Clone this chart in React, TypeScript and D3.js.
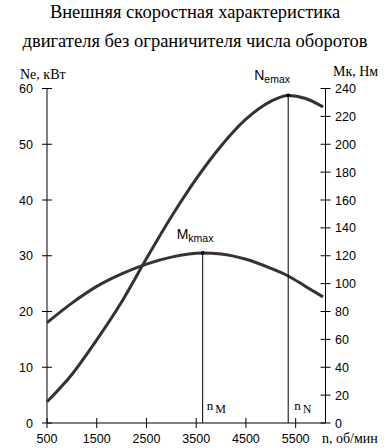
import React from "react";
import * as d3 from "d3";

const rpm = [500, 1000, 1500, 2000, 2500, 3000, 3500, 4000, 4500, 5000, 5350, 5700, 6050];
const powerNe = [3.8, 8.7, 14.9, 21.7, 29.5, 37.0, 43.8, 49.7, 54.5, 57.7, 58.75, 58.2, 56.7];
const torqueRpm = [500, 1000, 1500, 2000, 2500, 3000, 3630, 4000, 4500, 5000, 5350, 5700, 6050];
const torqueMk = [72, 86, 98, 107, 114, 119, 122, 121.3, 117.5, 111, 105.5, 98, 90.5];
const xTicks = [500, 1500, 2500, 3500, 4500, 5500];
const neTicks = [0, 10, 20, 30, 40, 50, 60];
const mkTicks = [0, 20, 40, 60, 80, 100, 120, 140, 160, 180, 200, 220, 240];
const nM = 3630;
const nN = 5350;
const titleLines = ["Внешняя скоростная характеристика", "двигателя без ограничителя числа оборотов"];

export default function App() {
  const x = d3.scaleLinear().domain([500, 6100]).range([47, 325.5]);
  const yN = d3.scaleLinear().domain([0, 60]).range([423, 88.5]);
  const yM = d3.scaleLinear().domain([0, 240]).range([423, 88.5]);
  const lineN = d3
    .line<number>()
    .x((_, i) => x(rpm[i]))
    .y((d) => yN(d))
    .curve(d3.curveMonotoneX);
  const lineM = d3
    .line<number>()
    .x((_, i) => x(torqueRpm[i]))
    .y((d) => yM(d))
    .curve(d3.curveMonotoneX);
  const x0 = x(500);
  const x1 = x(6100);
  const y0 = yN(0);
  const serif = "Liberation Serif, DejaVu Serif, serif";
  const sans = "Liberation Sans, Arial, sans-serif";
  const nMax = powerNe[rpm.indexOf(nN)];
  const mMax = torqueMk[torqueRpm.indexOf(nM)];
  return (
    <svg width={390} height={448} style={{ position: "absolute", left: 0, top: 0, background: "#fff" }}>
      <rect width={390} height={448} fill="#fff" />
      {titleLines.map((t, i) => (
        <text key={i} x={195} y={18 + i * 28.5} textAnchor="middle" fontFamily={serif} fontSize={18.5} fill="#000">
          {t}
        </text>
      ))}
      {/* axes */}
      <line x1={x0} x2={x0} y1={yN(60)} y2={y0} stroke="#000" />
      <line x1={x1} x2={x1} y1={yM(240)} y2={y0} stroke="#000" />
      <line x1={x0} x2={x1} y1={y0} y2={y0} stroke="#000" />
      {neTicks.map((t) => (
        <g key={"n" + t}>
          <line x1={x0 - 5} x2={x0 + 5} y1={yN(t)} y2={yN(t)} stroke="#000" />
          <text x={33} y={yN(t) + 4.5} textAnchor="end" fontFamily={sans} fontSize={12.5} fill="#000">
            {t}
          </text>
        </g>
      ))}
      {mkTicks.map((t) => (
        <g key={"m" + t}>
          <line x1={x1 - 5} x2={x1 + 5} y1={yM(t)} y2={yM(t)} stroke="#000" />
          <text x={335} y={yM(t) + 4.5} textAnchor="start" fontFamily={sans} fontSize={12.5} fill="#000">
            {t}
          </text>
        </g>
      ))}
      {xTicks.map((t) => (
        <g key={"x" + t}>
          <line x1={x(t)} x2={x(t)} y1={y0 - 5} y2={y0 + 5} stroke="#000" />
          <text x={x(t)} y={443} textAnchor="middle" fontFamily={sans} fontSize={12.5} fill="#000">
            {t}
          </text>
        </g>
      ))}
      <text x={20} y={79} fontFamily={serif} fontSize={14} fill="#000">Ne, кВт</text>
      <text x={333} y={76} fontFamily={serif} fontSize={14} fill="#000">Мк, Нм</text>
      <text x={322} y={443} fontFamily={serif} fontSize={14} fill="#000">n, об/мин</text>
      {/* curves */}
      <path d={lineM(torqueMk) || ""} fill="none" stroke="#333" strokeWidth={3} />
      <path d={lineN(powerNe) || ""} fill="none" stroke="#333" strokeWidth={3} />
      {/* max markers */}
      <line x1={x(nM)} x2={x(nM)} y1={yM(mMax)} y2={y0} stroke="#000" />
      <line x1={x(nN)} x2={x(nN)} y1={yN(nMax)} y2={y0} stroke="#000" />
      <circle cx={x(nM)} cy={yM(mMax)} r={2} fill="#000" />
      <circle cx={x(nN)} cy={yN(nMax)} r={2} fill="#000" />
      <text x={x(nM) - 26} y={239} fontFamily={sans} fontSize={14} fill="#000">
        M<tspan fontSize={10.5} dy={3}>kmax</tspan>
      </text>
      <text x={x(nN) - 34} y={80} fontFamily={sans} fontSize={14} fill="#000">
        N<tspan fontSize={10.5} dy={3}>emax</tspan>
      </text>
      <text x={x(nM) + 4} y={410} fontFamily={serif} fontSize={13} fill="#000">
        n<tspan fontSize={12} dx={2} dy={3}>M</tspan>
      </text>
      <text x={x(nN) + 6} y={410} fontFamily={serif} fontSize={13} fill="#000">
        n<tspan fontSize={12} dx={2} dy={3}>N</tspan>
      </text>
    </svg>
  );
}
